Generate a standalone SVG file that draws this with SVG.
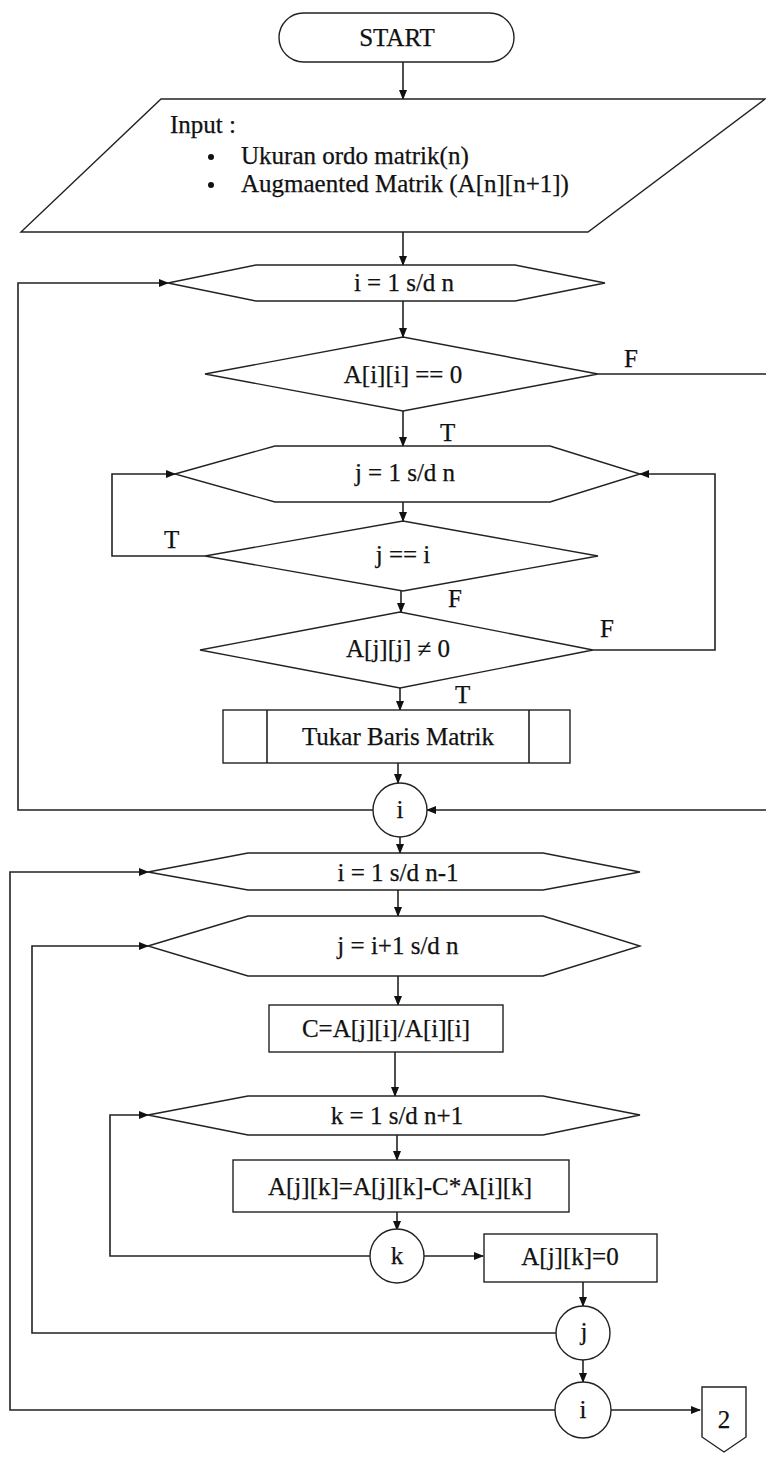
<svg xmlns="http://www.w3.org/2000/svg" width="766" height="1465" viewBox="0 0 766 1465">
<style>
.s{fill:#fff;stroke:#222;stroke-width:1.4}
.c{fill:none;stroke:#222;stroke-width:1.6}
text{font-family:'Liberation Serif','DejaVu Serif',serif;font-size:25px;fill:#111;stroke:#111;stroke-width:0.25}
.m{text-anchor:middle}
</style>
<defs>
<marker id="ar" markerWidth="10" markerHeight="8" refX="9" refY="4" orient="auto" markerUnits="userSpaceOnUse">
<path d="M0,0 L10,4 L0,8 Z" fill="#111"/>
</marker>
</defs>
<rect width="766" height="1465" fill="#fff"/>
<g id="connectors">
<line class="c" x1="403" y1="62" x2="403" y2="99" marker-end="url(#ar)"/>
<line class="c" x1="403" y1="232" x2="403" y2="265" marker-end="url(#ar)"/>
<line class="c" x1="403" y1="301" x2="403" y2="337" marker-end="url(#ar)"/>
<polyline class="c" points="598,374 770,374 770,810"/>
<line class="c" x1="770" y1="810" x2="427" y2="810" marker-end="url(#ar)"/>
<line class="c" x1="403" y1="411" x2="403" y2="446" marker-end="url(#ar)"/>
<line class="c" x1="403" y1="502" x2="403" y2="521" marker-end="url(#ar)"/>
<polyline class="c" points="205,556 112,556 112,474 175,474" marker-end="url(#ar)"/>
<line class="c" x1="401" y1="591" x2="401" y2="612" marker-end="url(#ar)"/>
<polyline class="c" points="593,650 715,650 715,474 640,474" marker-end="url(#ar)"/>
<line class="c" x1="400" y1="688" x2="400" y2="710" marker-end="url(#ar)"/>
<line class="c" x1="398" y1="763" x2="398" y2="783" marker-end="url(#ar)"/>
<polyline class="c" points="373,810 18,810 18,283 168,283" marker-end="url(#ar)"/>
<line class="c" x1="400" y1="837" x2="400" y2="853" marker-end="url(#ar)"/>
<line class="c" x1="398" y1="890" x2="398" y2="916" marker-end="url(#ar)"/>
<line class="c" x1="398" y1="976" x2="398" y2="1005" marker-end="url(#ar)"/>
<line class="c" x1="395" y1="1052" x2="395" y2="1096" marker-end="url(#ar)"/>
<line class="c" x1="397" y1="1135" x2="397" y2="1160" marker-end="url(#ar)"/>
<line class="c" x1="397" y1="1212" x2="397" y2="1230" marker-end="url(#ar)"/>
<polyline class="c" points="370,1256 110,1256 110,1115 148,1115" marker-end="url(#ar)"/>
<line class="c" x1="424" y1="1256" x2="483" y2="1256" marker-end="url(#ar)"/>
<line class="c" x1="583" y1="1282" x2="583" y2="1306" marker-end="url(#ar)"/>
<polyline class="c" points="556,1333 32,1333 32,946 148,946" marker-end="url(#ar)"/>
<line class="c" x1="583" y1="1360" x2="583" y2="1382" marker-end="url(#ar)"/>
<polyline class="c" points="555,1410 10,1410 10,872 148,872" marker-end="url(#ar)"/>
<line class="c" x1="611" y1="1410" x2="700" y2="1410" marker-end="url(#ar)"/>
</g>
<g id="labels">
<text x="624" y="367">F</text>
<text x="440" y="441">T</text>
<text x="164" y="548">T</text>
<text x="448" y="607">F</text>
<text x="600" y="637">F</text>
<text x="455" y="703">T</text>
</g>
<g id="start">
<rect class="s" x="279" y="13" width="235" height="49" rx="24.5"/>
<text class="m" x="397" y="46">START</text>
</g>
<g id="input">
<polygon class="s" points="161,99 765,99 588,232 21,232"/>
<text x="170" y="133">Input :</text>
<circle cx="211" cy="157" r="3" fill="#111"/>
<circle cx="211" cy="185" r="3" fill="#111"/>
<text x="241" y="164">Ukuran ordo matrik(n)</text>
<text x="241" y="192">Augmaented Matrik (A[n][n+1])</text>
</g>
<g id="loop-i1">
<polygon class="s" points="168,283 256,265 515,265 605,283 515,301 256,301"/>
<text class="m" x="404" y="291">i = 1 s/d n</text>
</g>
<g id="dec-aii">
<polygon class="s" points="205,374 403,337 598,374 403,411"/>
<text class="m" x="403" y="383">A[i][i] == 0</text>
</g>
<g id="loop-j1">
<polygon class="s" points="175,474 275,446 550,446 640,474 550,502 275,502"/>
<text class="m" x="405" y="481">j = 1 s/d n</text>
</g>
<g id="dec-ji">
<polygon class="s" points="205,556 403,521 598,556 403,591"/>
<text class="m" x="403" y="563">j == i</text>
</g>
<g id="dec-ajj">
<polygon class="s" points="200,650 400,612 593,650 400,688"/>
<text class="m" x="398" y="657">A[j][j] ≠ 0</text>
</g>
<g id="tukar">
<rect class="s" x="223" y="710" width="347" height="53"/>
<line class="c" x1="267" y1="710" x2="267" y2="763"/>
<line class="c" x1="529" y1="710" x2="529" y2="763"/>
<text class="m" x="398" y="745">Tukar Baris Matrik</text>
</g>
<g id="conn-i1">
<circle class="s" cx="400" cy="810" r="27"/>
<text class="m" x="400" y="818">i</text>
</g>
<g id="loop-i2">
<polygon class="s" points="148,872 248,853 543,853 640,872 543,890 248,890"/>
<text class="m" x="398" y="881">i = 1 s/d n-1</text>
</g>
<g id="loop-j2">
<polygon class="s" points="148,946 248,916 543,916 640,946 543,976 248,976"/>
<text class="m" x="398" y="954">j = i+1 s/d n</text>
</g>
<g id="calc-c">
<rect class="s" x="269" y="1005" width="234" height="47"/>
<text class="m" x="386" y="1037">C=A[j][i]/A[i][i]</text>
</g>
<g id="loop-k">
<polygon class="s" points="148,1115 248,1096 543,1096 640,1115 543,1135 248,1135"/>
<text class="m" x="397" y="1124">k = 1 s/d n+1</text>
</g>
<g id="calc-ajk">
<rect class="s" x="233" y="1160" width="336" height="52"/>
<text class="m" x="400" y="1195">A[j][k]=A[j][k]-C*A[i][k]</text>
</g>
<g id="conn-k">
<circle class="s" cx="397" cy="1256" r="27"/>
<text class="m" x="397" y="1264">k</text>
</g>
<g id="set-zero">
<rect class="s" x="484" y="1234" width="173" height="48"/>
<text class="m" x="570" y="1265">A[j][k]=0</text>
</g>
<g id="conn-j">
<circle class="s" cx="583" cy="1333" r="27"/>
<text class="m" x="584" y="1340">j</text>
</g>
<g id="conn-i2">
<circle class="s" cx="583" cy="1410" r="28"/>
<text class="m" x="583" y="1418">i</text>
</g>
<g id="offpage">
<polygon class="s" points="702,1387 746,1387 746,1437 724,1452 702,1437"/>
<text class="m" x="724" y="1428">2</text>
</g>
</svg>
